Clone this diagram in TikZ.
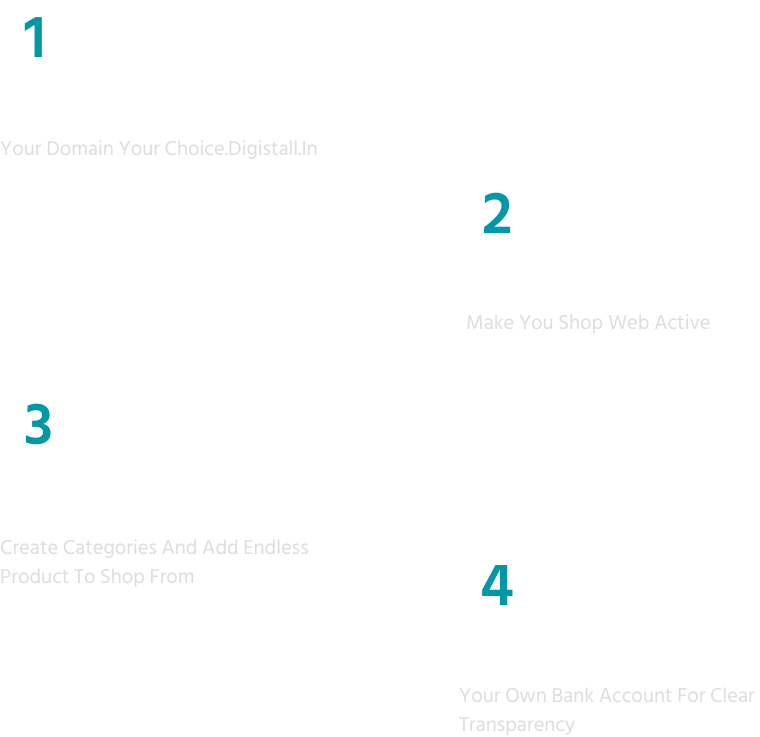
\documentclass[tikz,border=0pt]{standalone}
\usepackage{fontspec}
\newfontfamily\hind{Hind Siliguri}
\definecolor{teal1}{HTML}{0097A7}
\definecolor{lgray}{HTML}{DDDDDD}
\begin{document}
\begin{tikzpicture}[x=1pt,y=1pt,
  num/.style={anchor=base west,inner sep=0pt,text=teal1,font=\hind\bfseries\fontsize{61}{61}\selectfont},
  desc/.style={anchor=base west,inner sep=0pt,text=lgray,align=left,font=\hind\fontsize{20.5}{29}\selectfont}]
\useasboundingbox[fill=white] (0,0) rectangle (760,-736);
\node[num] (n1) at (24,-57) {1};
\node[desc] (t1) at (0,-155) {Your Domain Your Choice.Digistall.In};
\node[num] (n2) at (482,-233) {2};
\node[desc] (t2) at (466,-329) {Make You Shop Web Active};
\node[num] (n3) at (24,-444) {3};
\node[desc] (t3) at (0,-583) {Create Categories And Add Endless\\Product To Shop From};
\node[num] (n4) at (480,-605) {4};
\node[desc] (t4) at (459,-731) {Your Own Bank Account For Clear\\Transparency};
\end{tikzpicture}
\end{document}
